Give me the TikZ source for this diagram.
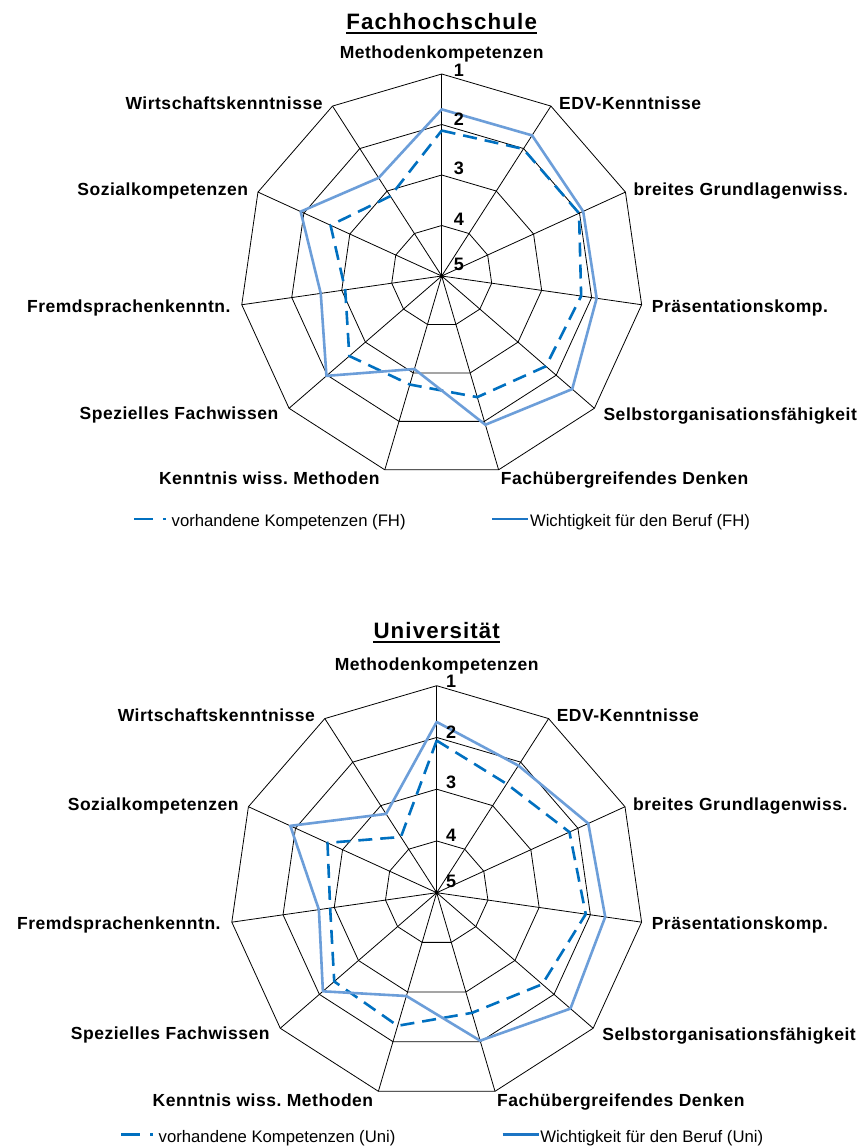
\documentclass[tikz,border=0pt]{standalone}
\usepackage{fontspec}
\setmainfont{Liberation Sans}
\newfontfamily\lblfont[LetterSpace=3]{Liberation Sans}
\newfontfamily\ttlfont[LetterSpace=5]{Liberation Sans}
\usepackage{tikz}
\usetikzlibrary{calc}
\frenchspacing

\definecolor{dashblue}{RGB}{0,112,192}
\definecolor{solidblue}{RGB}{108,158,217}
\definecolor{legendblue}{RGB}{28,117,196}

\tikzset{
  gridline/.style={black, line width=0.8pt},
  istline/.style={dashblue, line width=2.6pt, dash pattern=on 14pt off 8pt, line join=round},
  sollline/.style={solidblue, line width=2.6pt, line join=round},
  istlegend/.style={dashblue, line width=2.6pt, dash pattern=on 19pt off 10pt},
  solllegend/.style={legendblue, line width=2.6pt},
  axislabel/.style={font=\lblfont\bfseries\fontsize{17.5}{20}\selectfont, inner sep=0pt},
  scalelabel/.style={font=\bfseries\fontsize{18}{20}\selectfont, inner sep=0pt},
  charttitle/.style={font=\ttlfont\bfseries\fontsize{22.3}{26}\selectfont, inner sep=0pt},
  legendtext/.style={font=\fontsize{16.7}{20}\selectfont, inner sep=0pt, anchor=base west},
}

\begin{document}
\begin{tikzpicture}[x=1pt,y=-1pt]
\useasboundingbox[fill=white] (0,0) rectangle (864,1146);

% one radar chart per school: centre, radius, data (1 = best, 5 = centre)
\foreach \cx/\cy/\R/\nx/\ty/\ttl/\sfx/\da/\sa/\ly/\soll/\ist in {
  441.7/276/202/17.3/29.3/Fachhochschule/FH/134/492.3/519/{1.70,1.69,1.92,1.90,1.58,1.93,3.08,1.98,2.58,1.93,2.69}/{2.12,2.01,2.01,2.21,2.27,2.50,2.76,2.58,3.07,2.58,3.12},
  436.7/892.7/207/14.5/638.3/Universität/Uni/121/502.7/1134.5/{1.70,2.08,1.78,1.71,1.58,2.02,2.92,2.09,2.70,1.89,3.19}/{2.06,2.50,2.18,2.09,2.30,2.58,2.32,2.38,2.92,2.68,3.72}}
{
\begin{scope}[shift={(\cx,\cy)}]
  \coordinate (c\sfx) at (0,0);
  % spokes
  \foreach \k in {0,...,10} {
    \coordinate (ax\sfx\k) at ({-90+\k*360/11}:\R);
    \draw[gridline] (c\sfx) -- (ax\sfx\k);
  }
  % rings
  \foreach \i in {1,...,4}
    \draw[gridline] (-90:{\i*\R/4}) \foreach \k in {1,...,10} {-- ({-90+\k*360/11}:{\i*\R/4})} -- cycle;
  \fill (c\sfx) circle (2pt);

  % data
  \foreach \v [count=\k from 0] in \ist
    \coordinate (i\sfx\k) at ({-90+\k*360/11}:{(5-\v)*\R/4});
  \foreach \v [count=\k from 0] in \soll
    \coordinate (s\sfx\k) at ({-90+\k*360/11}:{(5-\v)*\R/4});
  \draw[istline] (i\sfx0) \foreach \k in {1,...,10} {-- (i\sfx\k)} -- cycle;
  \draw[sollline] (s\sfx0) \foreach \k in {1,...,10} {-- (s\sfx\k)} -- cycle;

  % scale
  \foreach \n/\off in {1/4,2/5.3,3/7,4/6,5/11.5}
    \node[scalelabel] (n\sfx\n) at (\nx,{-((5-\n)*\R/4+\off)}) {\n};

  % axis names
  \foreach \name/\anc/\dx/\dy [count=\k from 0] in {
    Methodenkompetenzen/base/0/-15.7,
    EDV-Kenntnisse/base west/8/3,
    breites Grundlagenwiss./base west/8/3.5,
    Präsentationskomp./base west/10/7.4,
    Selbstorganisationsfähigkeit/base west/9/12.4,
    Fachübergreifendes Denken/base west/2/15,
    Kenntnis wiss. Methoden/base east/-5/15,
    Spezielles Fachwissen/base east/-10.5/11.4,
    Fremdsprachenkenntn./base east/-11/7.4,
    Sozialkompetenzen/base east/-9.6/3.5,
    Wirtschaftskenntnisse/base east/-9.7/3}
    \node[axislabel, anchor=\anc] (l\sfx\k) at ([shift={(\dx,\dy)}]ax\sfx\k) {\name};

  % title
  \node[charttitle, anchor=base] (t\sfx) at (0,{\ty-\cy}) {\ttl};
  \draw[line width=1.8pt] ([yshift=-3.4pt]t\sfx.base west) -- ([yshift=-3.4pt]t\sfx.base east);
\end{scope}

% legend
\draw[istlegend] (\da,\ly) -- ++(32,0);
\node[legendtext] (lgi\sfx) at (\da+37.5,\ly+7.5) {vorhandene Kompetenzen (\sfx)};
\draw[solllegend] (\sa,\ly) -- ++(36,0);
\node[legendtext] (lgs\sfx) at (\sa+37.5,\ly+7.5) {Wichtigkeit für den Beruf (\sfx)};
}
\end{tikzpicture}
\end{document}
